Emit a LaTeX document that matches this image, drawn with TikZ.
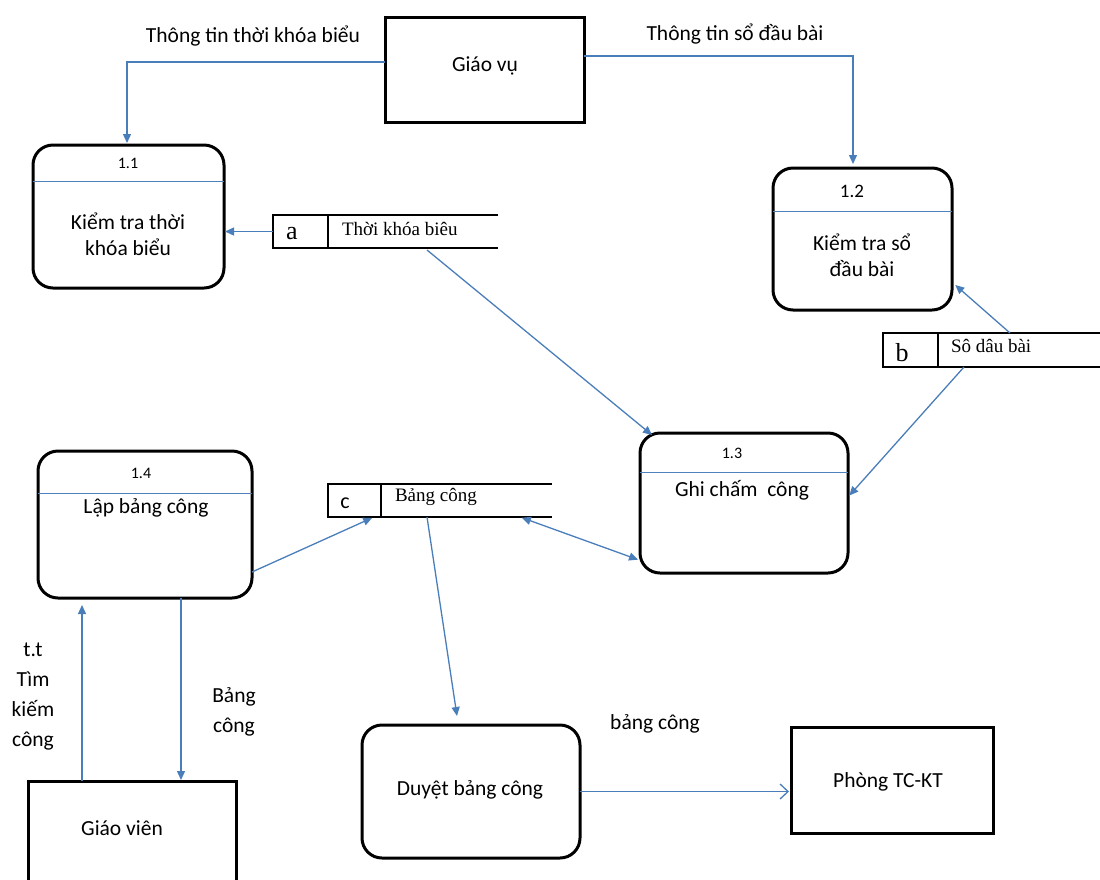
\documentclass[tikz,border=0pt]{standalone}
\usepackage{fontspec}
\setmainfont{Carlito}
\newfontfamily\storefont{Liberation Serif}
\usetikzlibrary{arrows.meta}
\definecolor{flowblue}{HTML}{4A7EBB}
\definecolor{rulblue}{HTML}{4F81BD}
\begin{document}
\begin{tikzpicture}[x=1pt,y=-1pt,
  every node/.style={inner sep=0pt,outer sep=0pt},
  procbox/.style={draw=black,line width=3pt,rounded corners=20pt,anchor=north west},
  extbox/.style={draw=black,line width=3pt,anchor=north west},
  storebox/.style={anchor=north west},
  storeline/.style={draw=black,line width=1.6pt},
  divider/.style={draw=rulblue,line width=1pt},
  flow/.style={draw=flowblue,line width=1.3pt,-{Triangle[length=9pt,width=8pt]}},
  twoway/.style={draw=flowblue,line width=1.3pt,{Triangle[length=9pt,width=8pt]}-{Triangle[length=9pt,width=8pt]}},
  openflow/.style={draw=flowblue,line width=1.3pt,-{Straight Barb[length=8pt,width=15pt]}},
  txt/.style={font=\fontsize{21.5}{26}\selectfont,align=center},
  sidetxt/.style={font=\fontsize{21.5}{30}\selectfont,align=center},
  num/.style={font=\fontsize{16}{19}\selectfont},
  storeid/.style={font=\storefont\fontsize{26}{30}\selectfont},
  storetxt/.style={font=\storefont\fontsize{19}{22}\selectfont}
]
\useasboundingbox (0,0) rectangle (1100,879);
\clip (0,0) rectangle (1100,879);
\fill[white] (0,0) rectangle (1100,879);

% external entities
\node[extbox,minimum width=199pt,minimum height=105pt] (gv) at (385,17) {};
\node[txt] (gv-t) at (485,66) {Giáo vụ};
\node[extbox,minimum width=202pt,minimum height=106pt] (ph) at (791,727) {};
\node[txt] (ph-t) at (888,782) {Phòng TC-KT};
\node[extbox,minimum width=208pt,minimum height=130pt] (gvn) at (28,781) {};
\node[txt] (gvn-t) at (122,828) {Giáo viên};

% processes
\node[procbox,minimum width=191pt,minimum height=143pt] (p11) at (33,145) {};
\coordinate (p11d) at (0,181);
\draw[divider] (p11.west |- p11d) -- (p11.east |- p11d);
\node[num] (p11-n) at (128,163) {1.1};
\node[txt] (p11-t) at (128,234) {Kiểm tra thời\\khóa biểu};

\node[procbox,minimum width=179pt,minimum height=142pt] (p12) at (773,168) {};
\coordinate (p12d) at (0,211);
\draw[divider] (p12.west |- p12d) -- (p12.east |- p12d);
\node[num,font=\fontsize{19}{22}\selectfont] (p12-n) at (852,191) {1.2};
\node[txt] (p12-t) at (862,255) {Kiểm tra sổ\\đầu bài};

\node[procbox,minimum width=208pt,minimum height=140pt] (p13) at (640,433) {};
\coordinate (p13d) at (0,472);
\draw[divider] (p13.west |- p13d) -- (p13.east |- p13d);
\node[num] (p13-n) at (732,453) {1.3};
\node[txt] (p13-t) at (742,490) {Ghi chấm\ \ công};

\node[procbox,minimum width=214pt,minimum height=147pt] (p14) at (38,451) {};
\coordinate (p14d) at (0,493);
\draw[divider] (p14.west |- p14d) -- (p14.east |- p14d);
\node[num] (p14-n) at (141,473) {1.4};
\node[txt] (p14-t) at (146,508) {Lập bảng công};

\node[procbox,minimum width=218pt,minimum height=133pt] (du) at (362,725) {};
\node[txt] (du-t) at (470,790) {Duyệt bảng công};

% data stores
\node[storebox,minimum width=225pt,minimum height=33pt] (sa) at (273,215) {};
\draw[storeline] (sa.north east) -- (sa.north west) -- (sa.south west) -- (sa.south east);
\draw[storeline] ([xshift=55pt]sa.north west) -- ([xshift=55pt]sa.south west);
\node[storeid] (sa-id) at (292,234) {a};
\node[storetxt,anchor=west] (sa-t) at (342,229) {Thời khóa biêu};

\node[storebox,minimum width=230pt,minimum height=34pt] (sb) at (883,333) {};
\draw[storeline] (sb.north east) -- (sb.north west) -- (sb.south west) -- (sb.south east);
\draw[storeline] ([xshift=55pt]sb.north west) -- ([xshift=55pt]sb.south west);
\node[storeid] (sb-id) at (902,353) {b};
\node[storetxt,anchor=west] (sb-t) at (951,346) {Sô dâu bài};

\node[storebox,minimum width=224pt,minimum height=33pt] (sc) at (328,484) {};
\draw[storeline] (sc.north east) -- (sc.north west) -- (sc.south west) -- (sc.south east);
\draw[storeline] ([xshift=53pt]sc.north west) -- ([xshift=53pt]sc.south west);
\node[txt,font=\fontsize{22}{26}\selectfont] (sc-id) at (345,503) {c};
\node[storetxt,anchor=west] (sc-t) at (395,497) {Bảng công};

% data flows
\draw[flow,shorten >=2pt] ([yshift=7.5pt]gv.west) -| ([xshift=-1.5pt]p11.north);
\node[txt] (lbl-tkb) at (253,36) {Thông tin thời khóa biểu};

\draw[flow,shorten >=4pt] ([yshift=13.5pt]gv.east) -| ([xshift=-9.5pt]p12.north);
\node[txt] (lbl-sdb) at (735,34) {Thông tin sổ đầu bài};

\draw[flow,shorten >=1pt] (sa.west) -- (sa.west -| p11.east);
\draw[flow] ([xshift=154pt,yshift=-2pt]sa.south west) -- ([xshift=12pt,yshift=-2pt]p13.north west);
\draw[flow,shorten >=3pt] ([xshift=127pt]sb.north west) -- ([xshift=1pt,yshift=27pt]p12.south east);
\draw[flow,shorten >=2pt] ([xshift=81pt]sb.south west) -- ([yshift=6pt]p13.east);
\draw[flow,shorten >=2pt] ([yshift=-47.5pt]p14.east) -- ([xshift=46pt]sc.south west);
\draw[twoway,shorten <=2pt,shorten >=1pt] ([xshift=192pt]sc.south west) -- ([xshift=-1pt,yshift=13pt]p13.south west);
\draw[flow] ([xshift=99pt]sc.south west) -- ([xshift=95pt,yshift=9pt]du.north west);
\draw[openflow,shorten >=2pt] (du.east) -- (du.east -| ph.west);
\node[txt] (lbl-bc2) at (655,724) {bảng công};

\coordinate (gvnA) at ([xshift=54pt]gvn.north west);
\draw[flow,shorten >=7pt] (gvnA) -- (gvnA |- p14.south);
\coordinate (p14B) at ([xshift=143pt]p14.south west);
\draw[flow,shorten >=1pt] (p14B) -- (p14B |- gvn.north);
\node[sidetxt] (lbl-tt) at (33,697) {t.t\\Tìm\\kiếm\\công};
\node[sidetxt] (lbl-bc) at (234,712) {Bảng\\công};
\end{tikzpicture}
\end{document}
